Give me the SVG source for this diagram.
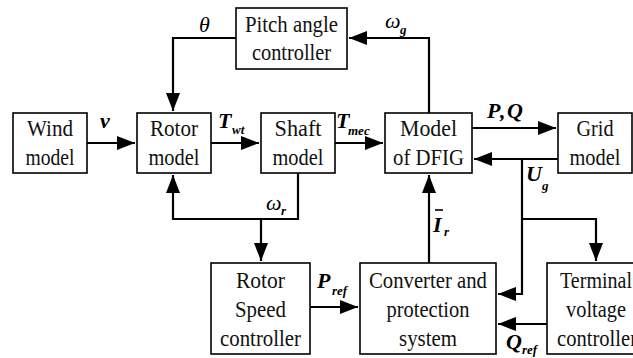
<svg xmlns="http://www.w3.org/2000/svg" width="633" height="358" viewBox="0 0 633 358">
<style>
.box{fill:#fff;stroke:#000;stroke-width:1.6}
.t{font-size:23px;text-anchor:middle;fill:#111}
.l{font-size:22px;font-style:italic;font-weight:bold;fill:#000}
.li{font-size:22px;font-style:italic;fill:#000}
.s{font-size:13px;font-style:italic;font-weight:bold;fill:#000}
.c{fill:none;stroke:#000;stroke-width:2.2}
</style>
<defs>
<marker id="ah" markerUnits="userSpaceOnUse" markerWidth="18" markerHeight="14" refX="18" refY="7" orient="auto">
<path d="M0,0 L18,7 L0,14 z" fill="#000"/>
</marker>
</defs>
<rect width="633" height="358" fill="#fff"/>
<g id="connectors">
<path class="c" d="M87,143 H135" marker-end="url(#ah)"/>
<path class="c" d="M211,143 H259" marker-end="url(#ah)"/>
<path class="c" d="M335,143 H383" marker-end="url(#ah)"/>
<path class="c" d="M472,128 H556" marker-end="url(#ah)"/>
<path class="c" d="M558,159 H474" marker-end="url(#ah)"/>
<path class="c" d="M236,38 H173 V111" marker-end="url(#ah)"/>
<path class="c" d="M429,113 V38 H349" marker-end="url(#ah)"/>
<path class="c" d="M298,173 V219 H173 V175" marker-end="url(#ah)"/>
<path class="c" d="M261,219 V261" marker-end="url(#ah)"/>
<path class="c" d="M310,307 H358" marker-end="url(#ah)"/>
<path class="c" d="M429,263 V175" marker-end="url(#ah)"/>
<path class="c" d="M522,159 V294 H498" marker-end="url(#ah)"/>
<path class="c" d="M522,219 H596 V261" marker-end="url(#ah)"/>
<path class="c" d="M547,324 H498" marker-end="url(#ah)"/>
</g>
<g font-family="Liberation Serif, Times New Roman, serif">
<g id="wind">
<rect class="box" x="13" y="113" width="74" height="60"/>
<text class="t" x="50" y="136" textLength="46" lengthAdjust="spacingAndGlyphs">Wind</text>
<text class="t" x="50" y="165" textLength="49" lengthAdjust="spacingAndGlyphs">model</text>
</g>
<g id="rotor">
<rect class="box" x="137" y="113" width="74" height="60"/>
<text class="t" x="174" y="136" textLength="48" lengthAdjust="spacingAndGlyphs">Rotor</text>
<text class="t" x="174" y="165" textLength="51" lengthAdjust="spacingAndGlyphs">model</text>
</g>
<g id="shaft">
<rect class="box" x="261" y="113" width="74" height="60"/>
<text class="t" x="298" y="136" textLength="47" lengthAdjust="spacingAndGlyphs">Shaft</text>
<text class="t" x="298" y="165" textLength="51" lengthAdjust="spacingAndGlyphs">model</text>
</g>
<g id="dfig">
<rect class="box" x="385" y="113" width="87" height="60"/>
<text class="t" x="428.5" y="136" textLength="57" lengthAdjust="spacingAndGlyphs">Model</text>
<text class="t" x="428.5" y="165" textLength="71" lengthAdjust="spacingAndGlyphs">of DFIG</text>
</g>
<g id="grid">
<rect class="box" x="558" y="113" width="74" height="60"/>
<text class="t" x="595" y="136" textLength="37" lengthAdjust="spacingAndGlyphs">Grid</text>
<text class="t" x="595" y="165" textLength="51" lengthAdjust="spacingAndGlyphs">model</text>
</g>
<g id="pitch">
<rect class="box" x="236" y="8" width="111" height="61"/>
<text class="t" x="291.5" y="32" textLength="93" lengthAdjust="spacingAndGlyphs">Pitch angle</text>
<text class="t" x="291.5" y="60" textLength="79" lengthAdjust="spacingAndGlyphs">controller</text>
</g>
<g id="rotorspeed">
<rect class="box" x="211" y="263" width="99" height="91"/>
<text class="t" x="260.5" y="288" textLength="49" lengthAdjust="spacingAndGlyphs">Rotor</text>
<text class="t" x="260.5" y="317" textLength="51" lengthAdjust="spacingAndGlyphs">Speed</text>
<text class="t" x="260.5" y="346" textLength="81" lengthAdjust="spacingAndGlyphs">controller</text>
</g>
<g id="converter">
<rect class="box" x="360" y="263" width="136" height="91"/>
<text class="t" x="428" y="288" textLength="118" lengthAdjust="spacingAndGlyphs">Converter and</text>
<text class="t" x="428" y="317" textLength="83" lengthAdjust="spacingAndGlyphs">protection</text>
<text class="t" x="428" y="346" textLength="58" lengthAdjust="spacingAndGlyphs">system</text>
</g>
<g id="terminal">
<rect class="box" x="547" y="263" width="100" height="91"/>
<text class="t" x="596" y="288" textLength="72" lengthAdjust="spacingAndGlyphs">Terminal</text>
<text class="t" x="596" y="317" textLength="60" lengthAdjust="spacingAndGlyphs">voltage</text>
<text class="t" x="597" y="346" textLength="80" lengthAdjust="spacingAndGlyphs">controller</text>
</g>
<g id="labels">
<text class="li" x="199" y="32">θ</text>
<text class="l" x="100" y="128">v</text>
<text class="l" x="218" y="128">T</text><text class="s" x="232" y="134">wt</text>
<text class="l" x="336" y="128">T</text><text class="s" x="348" y="135">mec</text>
<text class="l" x="487" y="118">P</text><text class="l" x="500" y="118">,</text><text class="l" x="507" y="118">Q</text>
<text class="li" x="385" y="28">ω</text><text class="s" x="400" y="34">g</text>
<text class="li" x="266" y="210">ω</text><text class="s" x="281" y="215">r</text>
<text class="l" x="526" y="181">U</text><text class="s" x="542" y="190">g</text>
<path d="M435,210 H443" stroke="#000" stroke-width="1.6"/>
<text class="l" x="433" y="232">I</text><text class="s" x="444" y="236">r</text>
<text class="l" x="317" y="288">P</text><text class="s" x="332" y="295">ref</text>
<text class="l" x="506" y="349">Q</text><text class="s" x="522" y="354">ref</text>
</g>
</g>
</svg>
